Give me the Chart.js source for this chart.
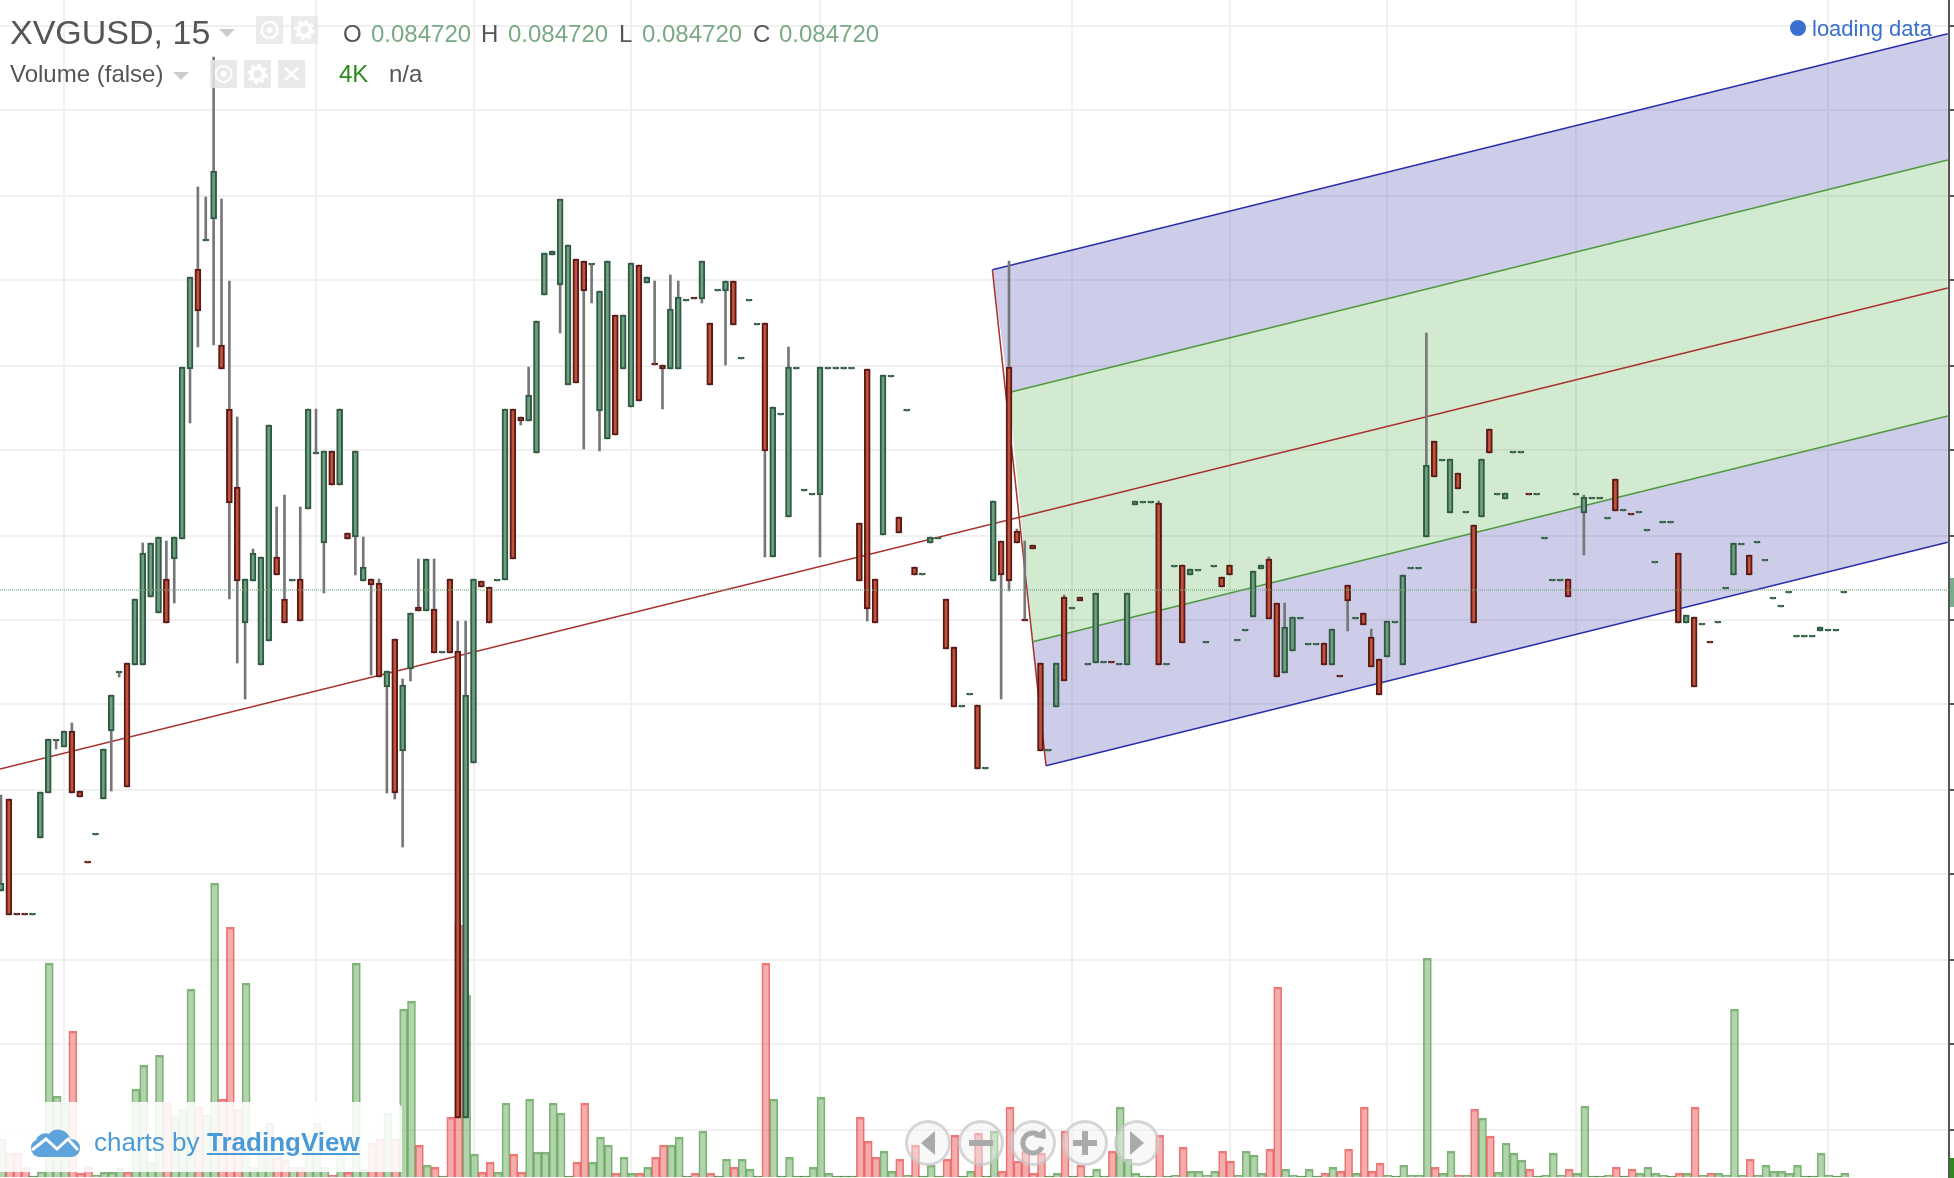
<!DOCTYPE html>
<html>
<head>
<meta charset="utf-8">
<title>XVGUSD, 15</title>
<script src="https://cdn.jsdelivr.net/npm/chart.js@4"></script>
<style>
  html, body { margin: 0; padding: 0; background: #fff; }
  #wrap { position: relative; width: 1954px; height: 1178px; overflow: hidden; font-family: "Liberation Sans", Arial, sans-serif; color: #555; }
  #wrap canvas { position: absolute; left: 0; top: 0; }
  .t { position: absolute; white-space: nowrap; line-height: 1; }
  .val { color: #7aaa85; }
  .tri { position: absolute; width: 0; height: 0; border-left: 8px solid transparent; border-right: 8px solid transparent; border-top: 8px solid #ccc; }
  .box { position: absolute; background: #e5e6e7; color: #fff; }
  .box svg, .nav svg, #logo svg { display: block; width: 100%; height: 100%; }
  .nav { position: absolute; top: 1120px; width: 46px; height: 46px; border-radius: 50%; box-sizing: border-box; border: 3px solid rgba(190,190,190,.6); background: rgba(240,240,240,.45); }
  #veil { position: absolute; left: 0; top: 1102px; width: 402px; height: 70px; background: rgba(255,255,255,.88); border-top-right-radius: 8px; }
  #logo { position: absolute; left: 29px; top: 1126px; width: 52px; height: 32px; }
  .tv { color: #4a9ad8; font-size: 26px; top: 1129px; }
</style>
</head>
<body>
<div id="wrap">
  <canvas id="chart" width="1954" height="1178"></canvas>

  <div class="t" style="left:10px;top:15px;font-size:34px">XVGUSD, 15</div>
  <div class="tri" style="left:219px;top:29px"></div>
  <div class="box" style="left:256px;top:16px;width:27px;height:28px;opacity:.8"><svg viewBox="0 0 27 28"><circle cx="13.5" cy="14" r="8" fill="none" stroke="#fff" stroke-width="2.5"/><circle cx="13.5" cy="14" r="3" fill="#fff"/></svg></div>
  <div class="box" style="left:291px;top:16px;width:27px;height:28px;opacity:.8"><svg viewBox="0 0 27 28"><circle cx="13.5" cy="14" r="6" fill="none" stroke="#fff" stroke-width="4"/><circle cx="13.5" cy="14" r="9" fill="none" stroke="#fff" stroke-width="2.5" stroke-dasharray="3.5 3.5"/></svg></div>

  <div class="t" style="left:343px;top:22px;font-size:24px">O</div>
  <div class="t val" style="left:371px;top:22px;font-size:24px">0.084720</div>
  <div class="t" style="left:481px;top:22px;font-size:24px">H</div>
  <div class="t val" style="left:508px;top:22px;font-size:24px">0.084720</div>
  <div class="t" style="left:619px;top:22px;font-size:24px">L</div>
  <div class="t val" style="left:642px;top:22px;font-size:24px">0.084720</div>
  <div class="t" style="left:753px;top:22px;font-size:24px">C</div>
  <div class="t val" style="left:779px;top:22px;font-size:24px">0.084720</div>

  <div class="t" style="left:10px;top:62px;font-size:24px">Volume (false)</div>
  <div class="tri" style="left:173px;top:72px"></div>
  <div class="box" style="left:210px;top:60px;width:27px;height:28px;opacity:.85"><svg viewBox="0 0 27 28"><circle cx="13.5" cy="14" r="8" fill="none" stroke="#fff" stroke-width="2"/><circle cx="13.5" cy="14" r="3" fill="#fff"/></svg></div>
  <div class="box" style="left:244px;top:60px;width:27px;height:28px;opacity:.85"><svg viewBox="0 0 27 28"><circle cx="13.5" cy="14" r="6" fill="none" stroke="#fff" stroke-width="4"/><circle cx="13.5" cy="14" r="9" fill="none" stroke="#fff" stroke-width="2.5" stroke-dasharray="3.5 3.5"/></svg></div>
  <div class="box" style="left:278px;top:60px;width:27px;height:28px;opacity:.85"><svg viewBox="0 0 27 28"><path d="M7 8 L20 20 M20 8 L7 20" stroke="#fff" stroke-width="3"/></svg></div>
  <div class="t" style="left:339px;top:62px;font-size:24px;color:#2f8a1d">4K</div>
  <div class="t" style="left:389px;top:62px;font-size:24px">n/a</div>

  <div style="position:absolute;left:1790px;top:20px;width:16px;height:16px;border-radius:50%;background:#3a6fd0"></div>
  <div class="t" style="left:1812px;top:18px;font-size:22px;color:#3a6fd0">loading data</div>

  <div style="position:absolute;left:1950px;top:578px;width:4px;height:29px;background:#79ad8b"></div>
  <div style="position:absolute;left:1950px;top:1158px;width:4px;height:20px;background:#2f8a1d"></div>

  <div id="veil"></div>
  <div id="logo"><svg viewBox="0 0 52 32"><path d="M10 31 a9 9 0 0 1 -3 -17 a10 10 0 0 1 13 -6 a12 12 0 0 1 21 5 a9 9 0 0 1 2 18 z" fill="#5fa3dd"/><path d="M3 24 L17 13 L28 23 L39 13 L49 24" fill="none" stroke="#fff" stroke-width="3"/></svg></div>
  <div class="t tv" style="left:94px">charts by</div>
  <div class="t tv" style="left:207px;font-weight:bold;text-decoration:underline">TradingView</div>

  <div class="nav" style="left:905px"><svg viewBox="0 0 40 40"><path d="M27 8 L13 20 L27 32 z" fill="#aaa"/></svg></div>
  <div class="nav" style="left:958px"><svg viewBox="0 0 40 40"><path d="M8 17 h24 v6 h-24 z" fill="#aaa"/></svg></div>
  <div class="nav" style="left:1010px"><svg viewBox="0 0 40 40"><path d="M29 24 a10 10 0 1 1 -2 -11" fill="none" stroke="#aaa" stroke-width="5"/><path d="M21 14 L33 16 L32 5 z" fill="#aaa"/></svg></div>
  <div class="nav" style="left:1062px"><svg viewBox="0 0 40 40"><path d="M17 8 h6 v9 h9 v6 h-9 v9 h-6 v-9 h-9 v-6 h9 z" fill="#aaa"/></svg></div>
  <div class="nav" style="left:1114px"><svg viewBox="0 0 40 40"><path d="M13 8 L27 20 L13 32 z" fill="#aaa"/></svg></div>
</div>

<script>
// prices are in 1e-5 USD, 15 min bars, index = bar number
const opens = [
  8171,8263,8148,8148,8147,8224,8269,8321,8315,8331,
  8271,8200,8227,8263,8331,8389,8399,8397,8397,8465,
  8449,8483,8503,8523,8693,8793,8821,8843,8717,8653,
  8575,8439,8481,8397,8421,8505,8463,8481,8483,8553,
  8608,8519,8611,8577,8529,8525,8481,8483,8479,8375,
  8423,8311,8393,8455,8451,8453,8409,8483,8411,7944,
  8299,8481,8475,8481,8482,8653,8645,8641,8609,8767,
  8807,8777,8677,8803,8801,8797,8651,8623,8747,8693,
  8655,8797,8779,8698,8697,8693,8693,8761,8764,8763,
  8739,8771,8771,8781,8703,8761,8737,8739,8505,8647,
  8545,8693,8571,8567,8567,8693,8693,8693,8693,8539,
  8693,8483,8527,8685,8545,8651,8495,8487,8519,8523,
  8463,8415,8355,8367,8357,8293,8481,8521,8695,8531,
  8442,8517,8399,8311,8355,8465,8453,8465,8397,8399,
  8399,8400,8397,8397,8557,8559,8559,8559,8397,8495,
  8497,8487,8491,8419,8495,8485,8497,8421,8431,8445,
  8493,8503,8459,8389,8411,8443,8417,8417,8419,8397,
  8386,8477,8443,8449,8425,8403,8405,8439,8397,8493,
  8493,8525,8621,8601,8549,8589,8549,8537,8545,8633,
  8567,8563,8609,8609,8568,8567,8523,8481,8481,8483,
  8567,8549,8563,8563,8543,8583,8551,8548,8549,8531,
  8499,8539,8539,8509,8439,8445,8437,8420,8439,8473,
  8487,8517,8507,8519,8501,8463,8455,8469,8425,8425,
  8425,8431,8431,8431,8469
];
const closes = [
  8179,8147,8147,8147,8148,8270,8323,8322,8331,8269,
  8265,8199,8228,8313,8367,8390,8275,8463,8509,8519,
  8525,8439,8525,8695,8785,8751,8822,8891,8693,8559,
  8481,8483,8509,8505,8637,8487,8439,8482,8441,8653,
  8609,8611,8577,8653,8523,8611,8495,8477,8385,8391,
  8269,8377,8449,8451,8503,8409,8410,8409,7944,8367,
  8483,8475,8439,8482,8653,8503,8641,8667,8741,8809,
  8811,8863,8817,8679,8771,8798,8771,8801,8627,8747,
  8799,8661,8785,8697,8693,8753,8765,8762,8763,8801,
  8677,8772,8781,8737,8704,8762,8738,8611,8655,8648,
  8695,8694,8572,8568,8695,8694,8694,8694,8694,8481,
  8453,8439,8687,8686,8529,8652,8487,8488,8525,8524,
  8413,8355,8356,8368,8293,8294,8561,8487,8481,8519,
  8441,8513,8311,8312,8399,8381,8454,8461,8398,8469,
  8400,8399,8398,8469,8561,8560,8560,8397,8398,8496,
  8419,8493,8492,8420,8496,8475,8487,8422,8432,8491,
  8497,8443,8385,8435,8445,8444,8418,8418,8397,8433,
  8385,8461,8444,8437,8395,8367,8441,8440,8487,8494,
  8494,8597,8585,8602,8603,8573,8550,8439,8603,8609,
  8568,8569,8610,8610,8567,8568,8524,8482,8482,8465,
  8568,8565,8564,8564,8544,8551,8552,8547,8550,8532,
  8500,8540,8540,8439,8447,8375,8438,8419,8440,8474,
  8519,8518,8487,8520,8502,8464,8456,8470,8426,8426,
  8426,8435,8432,8432,8470
];
const highs = [
  8267,8263,8148,8148,8148,8270,8323,8322,8331,8339,
  8271,8200,8228,8313,8367,8390,8399,8463,8519,8519,
  8525,8521,8525,8695,8785,8875,8865,9005,8863,8781,
  8645,8483,8513,8505,8637,8555,8567,8482,8555,8653,
  8653,8611,8611,8653,8529,8611,8525,8483,8483,8391,
  8423,8383,8449,8503,8503,8503,8410,8483,8441,8441,
  8483,8481,8475,8482,8653,8653,8645,8695,8741,8809,
  8811,8863,8817,8803,8801,8798,8771,8801,8747,8747,
  8799,8797,8785,8781,8697,8787,8781,8762,8764,8801,
  8739,8772,8781,8781,8704,8762,8738,8739,8655,8648,
  8715,8694,8572,8568,8695,8694,8694,8694,8694,8539,
  8693,8483,8687,8686,8545,8652,8495,8488,8525,8524,
  8463,8415,8356,8368,8357,8294,8561,8521,8801,8533,
  8521,8517,8399,8312,8399,8467,8454,8465,8398,8469,
  8400,8400,8398,8469,8561,8560,8560,8561,8398,8496,
  8497,8493,8492,8420,8496,8485,8497,8422,8432,8491,
  8497,8505,8459,8459,8445,8444,8418,8418,8419,8433,
  8386,8477,8444,8449,8433,8403,8441,8440,8487,8494,
  8494,8729,8621,8602,8603,8589,8550,8537,8603,8633,
  8568,8569,8610,8610,8568,8568,8524,8482,8482,8483,
  8568,8567,8564,8564,8544,8583,8552,8548,8550,8532,
  8500,8540,8540,8509,8447,8445,8438,8420,8440,8474,
  8519,8518,8507,8520,8502,8464,8456,8470,8426,8426,
  8426,8435,8432,8432,8470
];
const lows = [
  8171,8147,8147,8147,8147,8224,8269,8313,8315,8269,
  8265,8199,8227,8263,8271,8385,8275,8397,8397,8465,
  8449,8439,8459,8523,8639,8715,8821,8717,8693,8463,
  8399,8363,8481,8397,8421,8487,8439,8481,8441,8553,
  8608,8469,8577,8577,8523,8487,8481,8387,8385,8269,
  8263,8215,8381,8451,8451,8409,8409,8409,7944,7944,
  8299,8475,8439,8481,8482,8503,8637,8641,8609,8767,
  8807,8729,8677,8679,8613,8759,8611,8623,8627,8693,
  8655,8661,8779,8697,8653,8693,8693,8761,8763,8759,
  8677,8771,8697,8737,8703,8761,8737,8505,8505,8647,
  8545,8693,8571,8567,8505,8693,8693,8693,8693,8481,
  8441,8439,8527,8685,8529,8651,8487,8487,8519,8523,
  8413,8355,8355,8367,8293,8293,8481,8363,8471,8519,
  8441,8513,8311,8311,8355,8381,8453,8461,8397,8399,
  8399,8399,8397,8397,8557,8559,8559,8397,8397,8495,
  8419,8487,8491,8419,8495,8475,8487,8421,8431,8445,
  8493,8443,8385,8389,8411,8443,8417,8417,8397,8397,
  8385,8431,8443,8437,8395,8367,8405,8439,8397,8493,
  8493,8525,8585,8601,8549,8573,8549,8439,8545,8609,
  8567,8563,8609,8609,8567,8567,8523,8481,8481,8465,
  8567,8507,8563,8563,8543,8551,8551,8547,8549,8531,
  8499,8539,8539,8439,8439,8375,8437,8419,8439,8473,
  8487,8517,8487,8519,8501,8463,8455,8469,8425,8425,
  8425,8431,8431,8431,8469
];
const volumes = [
  38,24,24,10,1,6,214,81,74,146,
  4,10,2,5,5,9,5,88,112,15,
  122,74,60,68,188,70,62,294,78,250,
  68,194,10,26,54,20,17,10,10,26,
  54,10,2,22,5,214,8,34,38,64,
  38,168,176,32,12,10,1,60,252,182,
  23,5,15,5,74,23,5,78,25,25,
  74,64,1,15,74,15,40,32,4,20,
  4,4,10,20,32,32,40,1,4,46,
  4,1,18,10,18,8,1,214,78,1,
  20,1,1,10,80,4,1,1,1,60,
  36,20,26,6,18,2,32,1,12,1,
  18,42,1,6,44,1,46,6,70,16,
  26,4,24,1,4,46,1,12,1,8,
  1,26,70,18,4,1,1,42,1,2,
  30,6,6,2,6,26,16,2,26,22,
  4,28,190,8,2,1,8,1,4,10,
  6,28,4,70,6,14,2,1,12,2,
  2,219,10,4,26,2,2,68,59,41,
  5,34,24,17,8,1,2,24,2,8,
  4,71,1,1,2,10,1,8,4,10,
  4,2,1,4,4,70,2,4,4,2,
  168,2,18,2,12,6,6,4,12,1,
  1,24,2,1,4
];

const lastPrice = 8472;
const priceTicks = [9036,8952,8866,8782,8696,8612,8526,8442,8358,8272,8188,8102,8018,7932];
const timeTicks = [8,40,60,80,104,136,156,176,200,232];

// regression channel, bar number / price at the corners
const channelLeftBars = [125.89,128,131.01,132.7];
const channelLeftPrices = [8792.2,8669.4,8420.3,8296.3];
const channelRightBar = 247.2;
const channelRightPrices = [9028.3,8902,8646,8519.7];
const medianBars = [-0.127,247.2];
const medianPrices = [8293,8774];

const bars = opens.map((_, i) => i);
const isUp = i => closes[i] >= opens[i];

const GREEN_EDGE = '#2f5b40', GREEN_BODY = '#6f9f82';
const RED_EDGE = '#5a1b16', RED_BODY = '#c2523b';

function band(a, b, color) {
  return {
    type: 'line', order: 50, yAxisID: 'y', pointRadius: 0, borderWidth: 0,
    backgroundColor: color, fill: 'shape',
    data: [
      {x: channelLeftBars[a], y: channelLeftPrices[a]},
      {x: channelRightBar, y: channelRightPrices[a]},
      {x: channelRightBar, y: channelRightPrices[b]},
      {x: channelLeftBars[b], y: channelLeftPrices[b]}
    ]
  };
}

function edge(a, color) {
  return {
    type: 'line', order: 40, yAxisID: 'y', pointRadius: 0, borderWidth: 1.5,
    borderColor: color, fill: false,
    data: [{x: channelLeftBars[a], y: channelLeftPrices[a]}, {x: channelRightBar, y: channelRightPrices[a]}]
  };
}

new Chart(document.getElementById('chart'), {
  type: 'bar',
  data: {
    datasets: [
      band(0, 1, 'rgba(60,60,170,0.26)'),
      band(1, 2, 'rgba(60,170,50,0.23)'),
      band(2, 3, 'rgba(60,60,170,0.26)'),
      edge(0, '#2a2fa8'),
      edge(1, '#4f9a3e'),
      edge(2, '#4f9a3e'),
      edge(3, '#2a2fa8'),
      {
        // closing side of the channel
        type: 'line', order: 40, yAxisID: 'y', pointRadius: 0, borderWidth: 1.5,
        borderColor: '#a8322f', fill: false,
        data: [{x: channelLeftBars[0], y: channelLeftPrices[0]}, {x: channelLeftBars[3], y: channelLeftPrices[3]}]
      },
      {
        type: 'line', order: 40, yAxisID: 'y', pointRadius: 0, borderWidth: 1.5,
        borderColor: '#a8322f', fill: false,
        data: medianBars.map((b, i) => ({x: b, y: medianPrices[i]}))
      },
      {
        // volume
        type: 'bar', order: 30, yAxisID: 'yVol', grouped: false, barThickness: 8,
        borderWidth: {top: 2, left: 1, right: 1, bottom: 0}, borderSkipped: false,
        data: bars.map(i => ({x: i + 0.125, y: volumes[i]})),
        backgroundColor: bars.map(i => isUp(i) ? 'rgba(100,170,90,0.5)' : 'rgba(235,90,90,0.5)'),
        borderColor: bars.map(i => volumes[i] < 2 ? '#3d8030' : (isUp(i) ? 'rgba(90,155,80,0.75)' : 'rgba(230,80,80,0.75)'))
      },
      {
        // wicks
        type: 'bar', order: 20, yAxisID: 'y', grouped: false, barThickness: 2,
        backgroundColor: '#777', borderWidth: 0,
        data: bars.map(i => ({x: i, y: [lows[i], highs[i]]}))
      },
      {
        // bodies
        type: 'bar', order: 10, yAxisID: 'y', grouped: false, barThickness: 6, minBarLength: 2,
        borderWidth: 2, borderSkipped: false,
        data: bars.map(i => ({x: i, y: [opens[i], closes[i]]})),
        backgroundColor: bars.map(i => isUp(i) ? GREEN_BODY : RED_BODY),
        borderColor: bars.map(i => isUp(i) ? GREEN_EDGE : RED_EDGE)
      },
      {
        type: 'line', order: 5, yAxisID: 'y', pointRadius: 0, borderWidth: 2,
        borderColor: 'rgba(120,170,125,0.6)', borderDash: [1, 1], fill: false,
        data: [{x: -0.127, y: lastPrice}, {x: 247.37, y: lastPrice}]
      }
    ]
  },
  options: {
    responsive: false,
    animation: false,
    events: [],
    layout: { padding: 0 },
    plugins: { legend: { display: false }, tooltip: { enabled: false }, title: { display: false } },
    scales: {
      x: {
        type: 'linear', offset: false, min: -0.127, max: 247.365,
        ticks: { display: false, autoSkip: false },
        grid: { color: '#f0f0f0', lineWidth: 2, drawTicks: false, offset: false },
        border: { display: false },
        afterBuildTicks: s => { s.ticks = timeTicks.map(v => ({value: v})); },
        afterFit: s => { s.height = 0; }
      },
      y: {
        type: 'linear', position: 'right', min: 7884, max: 9062,
        ticks: { display: false },
        grid: { color: '#f0f0f0', lineWidth: 2, tickColor: '#555', tickLength: 5 },
        border: { color: '#555', width: 2 },
        afterBuildTicks: s => { s.ticks = priceTicks.map(v => ({value: v})); },
        afterFit: s => { s.width = 5; }
      },
      yVol: {
        type: 'linear', display: false, min: -1, max: 1177
      }
    }
  }
});
</script>
</body>
</html>
